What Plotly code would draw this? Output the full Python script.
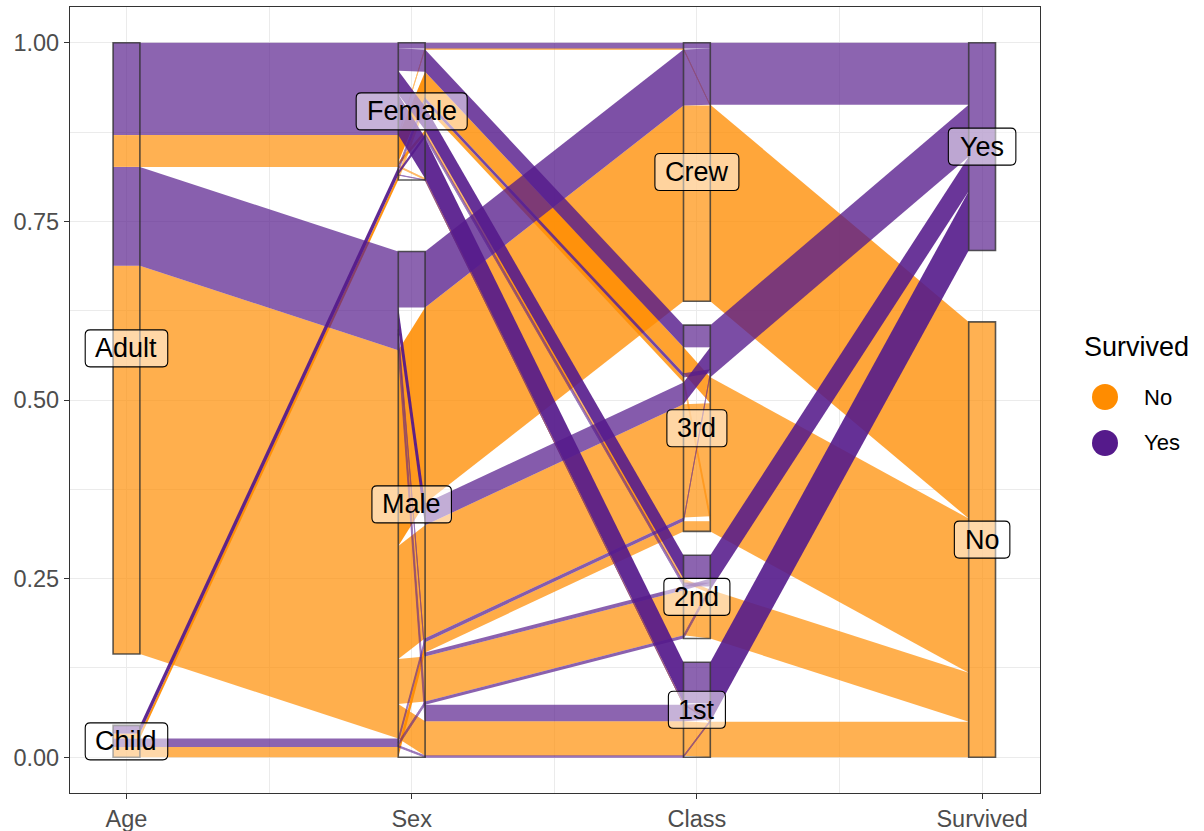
import math
import plotly.graph_objects as go

# ---------------- data (Titanic passengers) ----------------
axis_names = ["Age", "Sex", "Class", "Survived"]
age_levels = ["Child", "Adult"]
sex_levels = ["Male", "Female"]
class_levels = ["1st", "2nd", "3rd", "Crew"]
survived_levels = ["No", "Yes"]

# counts per class (1st, 2nd, 3rd, Crew)
no_child_male = [0, 0, 35, 0]
no_child_female = [0, 0, 17, 0]
no_adult_male = [118, 154, 387, 670]
no_adult_female = [4, 13, 89, 3]
yes_child_male = [5, 11, 13, 0]
yes_child_female = [1, 13, 14, 0]
yes_adult_male = [57, 14, 75, 192]
yes_adult_female = [140, 80, 76, 20]

survived_colors = ["#FF8C00", "#551A8B"]

# ---------------- build cells ----------------
groups = [
    ("No", "Child", "Male", no_child_male),
    ("No", "Child", "Female", no_child_female),
    ("No", "Adult", "Male", no_adult_male),
    ("No", "Adult", "Female", no_adult_female),
    ("Yes", "Child", "Male", yes_child_male),
    ("Yes", "Child", "Female", yes_child_female),
    ("Yes", "Adult", "Male", yes_adult_male),
    ("Yes", "Adult", "Female", yes_adult_female),
]
cells = []
for surv, age, sex, arr in groups:
    for ci, n in enumerate(arr):
        if n > 0:
            cells.append({"Age": age_levels.index(age), "Sex": sex_levels.index(sex),
                          "Class": ci, "Survived": survived_levels.index(surv), "n": n})

levels = {"Age": age_levels, "Sex": sex_levels, "Class": class_levels, "Survived": survived_levels}
N = sum(c["n"] for c in cells)
space = 0.1
scale = (1 - space) / N


def level_info(var):
    nlev = len(levels[var])
    gap = space / (nlev - 1)
    totals = [sum(c["n"] for c in cells if c[var] == i) for i in range(nlev)]
    starts, pos = [], 0.0
    for t in totals:
        starts.append(pos)
        pos += t * scale + gap
    return starts, totals


tie = ["Age", "Survived", "Sex", "Class"]


def assign(var, neighbor):
    keyvars = [var, neighbor] + [v for v in tie if v not in (var, neighbor)]
    order = sorted(range(len(cells)), key=lambda i: tuple(cells[i][v] for v in keyvars))
    starts, _ = level_info(var)
    cur = list(starts)
    res = {}
    for i in order:
        lvl = cells[i][var]
        lo = cur[lvl]
        hi = lo + cells[i]["n"] * scale
        res[i] = (lo, hi)
        cur[lvl] = hi
    return res


nax = len(axis_names)
left_pos, right_pos = [], []
for k, var in enumerate(axis_names):
    if k == 0:
        r = assign(var, axis_names[k + 1])
        l = r
    elif k == nax - 1:
        l = assign(var, axis_names[k - 1])
        r = l
    else:
        l = assign(var, axis_names[k - 1])
        r = assign(var, axis_names[k + 1])
    left_pos.append(l)
    right_pos.append(r)

# ---------------- geometry helpers ----------------
L, R, T, B = 70, 164, 7, 38
W, H = 1204, 831
xr = [0.802, 4.203]
yr = [-0.05, 1.05]
xpx = (W - L - R) / (xr[1] - xr[0])
ypx = (H - T - B) / (yr[1] - yr[0])

bw = 0.094
fig = go.Figure()

# segments: inside each box, and between neighbouring boxes
segments = []
for k in range(nax):
    segments.append((k + 1 - bw / 2, k + 1 + bw / 2, left_pos[k], right_pos[k]))
    if k < nax - 1:
        segments.append((k + 1 + bw / 2, k + 2 - bw / 2, right_pos[k], left_pos[k + 1]))

trans_flat = 0.32  # transmission of a flat band (alpha ~0.68); steeper bands overlap more
eps = 1e-9
for s_idx, col in enumerate(survived_colors):
    for xa, xb, A, Bp in segments:
        idx = sorted([i for i in range(len(cells)) if cells[i]["Survived"] == s_idx],
                     key=lambda i: A[i][0])
        runs = []
        for i in idx:
            if runs and abs(A[i][0] - runs[-1][1]) < eps and abs(Bp[i][0] - runs[-1][3]) < eps:
                runs[-1][1] = A[i][1]
                runs[-1][3] = Bp[i][1]
            else:
                runs.append([A[i][0], A[i][1], Bp[i][0], Bp[i][1]])
        for a0, a1, b0, b1 in runs:
            dx = (xb - xa) * xpx
            dy = ((b0 + b1) - (a0 + a1)) / 2 * ypx
            cos_t = dx / math.hypot(dx, dy)
            op = min(0.94, 1 - trans_flat ** (1 / cos_t))
            thin = (a1 - a0) * ypx * cos_t < 2.0
            if thin:
                op = min(op, 0.6)
            fig.add_trace(go.Scatter(x=[xa, xb, xb, xa, xa], y=[a0, b0, b1, a1, a0],
                                     mode="lines", fill="toself", fillcolor=col,
                                     line=dict(color=col, width=0.9 if thin else 0),
                                     opacity=op, hoverinfo="skip", showlegend=False))

shapes = []
# boxes
for k, var in enumerate(axis_names):
    starts, totals = level_info(var)
    for s, t in zip(starts, totals):
        shapes.append(dict(type="rect", xref="x", yref="y", x0=k + 1 - bw / 2, x1=k + 1 + bw / 2,
                           y0=s, y1=s + t * scale, line=dict(color="rgba(45,45,45,0.78)", width=1.6),
                           fillcolor="rgba(0,0,0,0)", layer="above"))

# label boxes
cw = {"A": 667, "C": 722, "F": 611, "M": 833, "N": 722, "Y": 667, "a": 556, "d": 556, "e": 556,
      "h": 556, "i": 222, "l": 222, "m": 833, "n": 556, "o": 556, "r": 333, "s": 500, "t": 278,
      "u": 556, "w": 722, "1": 556, "2": 556, "3": 556}
lab_font = 27
annotations = []
for k, var in enumerate(axis_names):
    starts, totals = level_info(var)
    for lvl, (s, t) in enumerate(zip(starts, totals)):
        txt = levels[var][lvl]
        cy = s + t * scale / 2
        cx = k + 1
        tw = sum(cw.get(ch, 556) for ch in txt) / 1000 * lab_font
        hw = (tw / 2 + 10.5) / xpx
        hh = 18.5 / ypx
        rx, ry = 5 / xpx, 5 / ypx
        x0, x1, y0, y1 = cx - hw, cx + hw, cy - hh, cy + hh
        path = (f"M {x0+rx},{y0} L {x1-rx},{y0} Q {x1},{y0} {x1},{y0+ry} L {x1},{y1-ry} "
                f"Q {x1},{y1} {x1-rx},{y1} L {x0+rx},{y1} Q {x0},{y1} {x0},{y1-ry} "
                f"L {x0},{y0+ry} Q {x0},{y0} {x0+rx},{y0} Z")
        shapes.append(dict(type="path", xref="x", yref="y", path=path,
                           fillcolor="rgba(255,255,255,0.5)", line=dict(color="black", width=1.1),
                           layer="above"))
        annotations.append(dict(x=cx, y=cy, xref="x", yref="y", text=txt, showarrow=False,
                                font=dict(size=lab_font, color="black", family="Liberation Sans, Arial"),
                                xanchor="center", yanchor="middle"))


# manual legend
def px2paper(px, py):
    return (px - L) / (W - L - R), (H - B - py) / (H - T - B)


lx, ly = px2paper(1082, 347)
annotations.append(dict(x=lx, y=ly, xref="paper", yref="paper", text="Survived", showarrow=False,
                        xanchor="left", yanchor="middle",
                        font=dict(size=27, color="black", family="Liberation Sans, Arial")))
for j, (lab, col) in enumerate(zip(survived_levels, survived_colors)):
    cy_px = 397 + 46 * j
    cxp, cyp = px2paper(1105, cy_px)
    shapes.append(dict(type="circle", xref="paper", yref="paper", xsizemode="pixel", ysizemode="pixel",
                       xanchor=cxp, yanchor=cyp, x0=-13, x1=13, y0=-13, y1=13,
                       fillcolor=col, line=dict(width=0)))
    tx, ty = px2paper(1142, cy_px)
    annotations.append(dict(x=tx, y=ty, xref="paper", yref="paper", text=lab, showarrow=False,
                            xanchor="left", yanchor="middle",
                            font=dict(size=22, color="black", family="Liberation Sans, Arial")))

axis_common = dict(showline=True, mirror=True, linecolor="#333333", linewidth=1.2,
                   ticks="outside", ticklen=5, tickcolor="#333333", tickwidth=1.1,
                   showgrid=True, gridcolor="#EBEBEB", gridwidth=1.2, zeroline=False,
                   automargin=False,
                   tickfont=dict(size=23.5, color="#4D4D4D", family="Liberation Sans, Arial"))

fig.update_layout(
    width=W, height=H,
    margin=dict(l=L, r=R, t=T, b=B, autoexpand=False),
    plot_bgcolor="white", paper_bgcolor="white",
    showlegend=False,
    shapes=shapes, annotations=annotations,
    xaxis=dict(range=xr, tickvals=[1, 2, 3, 4], ticktext=axis_names,
               minor=dict(tickvals=[1.5, 2.5, 3.5], showgrid=True, gridcolor="#EBEBEB", gridwidth=0.6, ticks=""),
               **axis_common),
    yaxis=dict(range=yr, tickvals=[0, 0.25, 0.5, 0.75, 1.0], ticktext=["0.00", "0.25", "0.50", "0.75", "1.00"],
               minor=dict(tickvals=[0.125, 0.375, 0.625, 0.875], showgrid=True, gridcolor="#EBEBEB", gridwidth=0.6, ticks=""),
               **axis_common),
)

fig.write_html("out.html", config={"displayModeBar": False},
               post_script="document.body.style.margin='0px';document.body.style.padding='0px';")
